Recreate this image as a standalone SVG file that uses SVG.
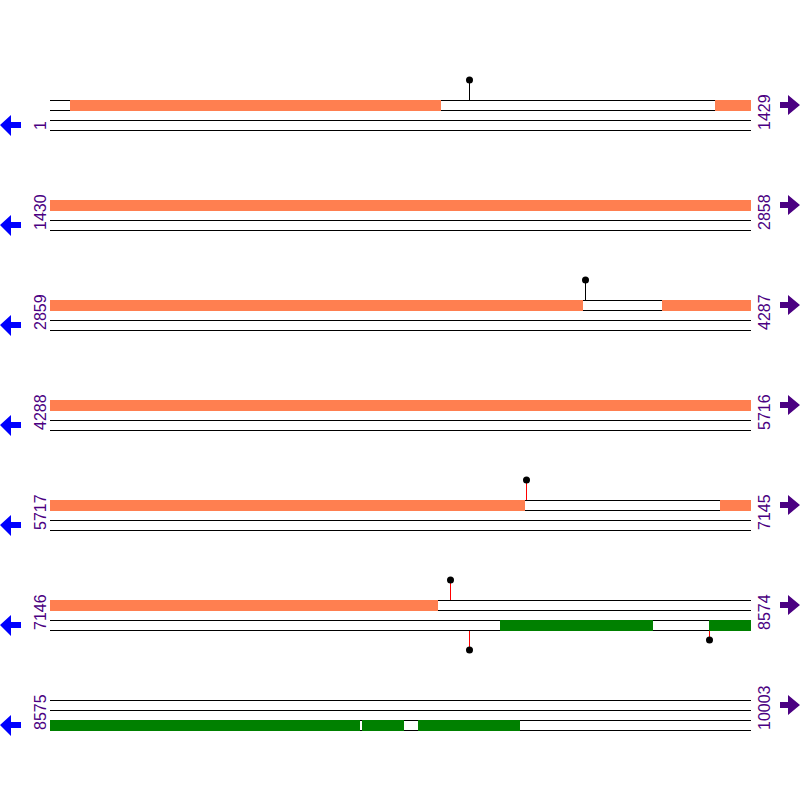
<svg xmlns="http://www.w3.org/2000/svg" width="800" height="800" viewBox="0 0 800 800">
<style>
.ln{stroke:#000;stroke-width:1;fill:none}
.or{fill:#ff7f50}
.gr{fill:#008000}
.lbl{font-family:"Liberation Sans",Arial,sans-serif;font-size:16px;fill:#4b0082}
.la{fill:#0000ff}
.ra{fill:#4b0082}
.dot{fill:#000}
.sk{stroke:#000;stroke-width:1}
.sr{stroke:#ff0000;stroke-width:1}
</style>
<defs>
<g id="strand">
<line class="ln" x1="50" y1="100.5" x2="751" y2="100.5"/>
<line class="ln" x1="50" y1="110.5" x2="751" y2="110.5"/>
<line class="ln" x1="50" y1="120.5" x2="751" y2="120.5"/>
<line class="ln" x1="50" y1="130.5" x2="751" y2="130.5"/>
<polygon class="la" points="0,125 11,115 11,122 21,122 21,128 11,128 11,136"/>
<polygon class="ra" points="780,102 788,102 788,95 800,105 788,115 788,108 780,108"/>
</g>
</defs>
<g id="row1">
<use href="#strand"/>
<rect class="or" x="70" y="100" width="371" height="11"/>
<rect class="or" x="715" y="100" width="36" height="11"/>
<line class="sk" x1="469.5" y1="80" x2="469.5" y2="100"/>
<circle class="dot" cx="469.5" cy="80" r="3.5"/>
<text class="lbl" transform="translate(46,130) rotate(-90)">1</text>
<text class="lbl" transform="translate(770,130) rotate(-90)">1429</text>
</g>
<g id="row2" transform="translate(0,100)">
<use href="#strand"/>
<rect class="or" x="50" y="100" width="701" height="11"/>
<text class="lbl" transform="translate(46,130) rotate(-90)">1430</text>
<text class="lbl" transform="translate(770,130) rotate(-90)">2858</text>
</g>
<g id="row3" transform="translate(0,200)">
<use href="#strand"/>
<rect class="or" x="50" y="100" width="533" height="11"/>
<rect class="or" x="662" y="100" width="89" height="11"/>
<line class="sk" x1="585.5" y1="80" x2="585.5" y2="100"/>
<circle class="dot" cx="585.5" cy="80" r="3.5"/>
<text class="lbl" transform="translate(46,130) rotate(-90)">2859</text>
<text class="lbl" transform="translate(770,130) rotate(-90)">4287</text>
</g>
<g id="row4" transform="translate(0,300)">
<use href="#strand"/>
<rect class="or" x="50" y="100" width="701" height="11"/>
<text class="lbl" transform="translate(46,130) rotate(-90)">4288</text>
<text class="lbl" transform="translate(770,130) rotate(-90)">5716</text>
</g>
<g id="row5" transform="translate(0,400)">
<use href="#strand"/>
<rect class="or" x="50" y="100" width="475" height="11"/>
<rect class="or" x="720" y="100" width="31" height="11"/>
<line class="sr" x1="526.5" y1="80" x2="526.5" y2="100"/>
<circle class="dot" cx="526.5" cy="80" r="3.5"/>
<text class="lbl" transform="translate(46,130) rotate(-90)">5717</text>
<text class="lbl" transform="translate(770,130) rotate(-90)">7145</text>
</g>
<g id="row6" transform="translate(0,500)">
<use href="#strand"/>
<rect class="or" x="50" y="100" width="388" height="11"/>
<rect class="gr" x="500" y="120" width="153" height="11"/>
<rect class="gr" x="709" y="120" width="42" height="11"/>
<line class="sr" x1="450.5" y1="80" x2="450.5" y2="100"/>
<circle class="dot" cx="450.5" cy="80" r="3.5"/>
<line class="sr" x1="469.5" y1="131" x2="469.5" y2="150"/>
<circle class="dot" cx="469.5" cy="150" r="3.5"/>
<line class="sr" x1="709.5" y1="131" x2="709.5" y2="140"/>
<circle class="dot" cx="709.5" cy="140" r="3.5"/>
<text class="lbl" transform="translate(46,130) rotate(-90)">7146</text>
<text class="lbl" transform="translate(770,130) rotate(-90)">8574</text>
</g>
<g id="row7" transform="translate(0,600)">
<use href="#strand"/>
<rect class="gr" x="50" y="120" width="310" height="11"/>
<rect class="gr" x="362" y="120" width="42" height="11"/>
<rect class="gr" x="418" y="120" width="102" height="11"/>
<text class="lbl" transform="translate(46,130) rotate(-90)">8575</text>
<text class="lbl" transform="translate(770,130) rotate(-90)">10003</text>
</g>
<g id="connectors"></g>
</svg>
